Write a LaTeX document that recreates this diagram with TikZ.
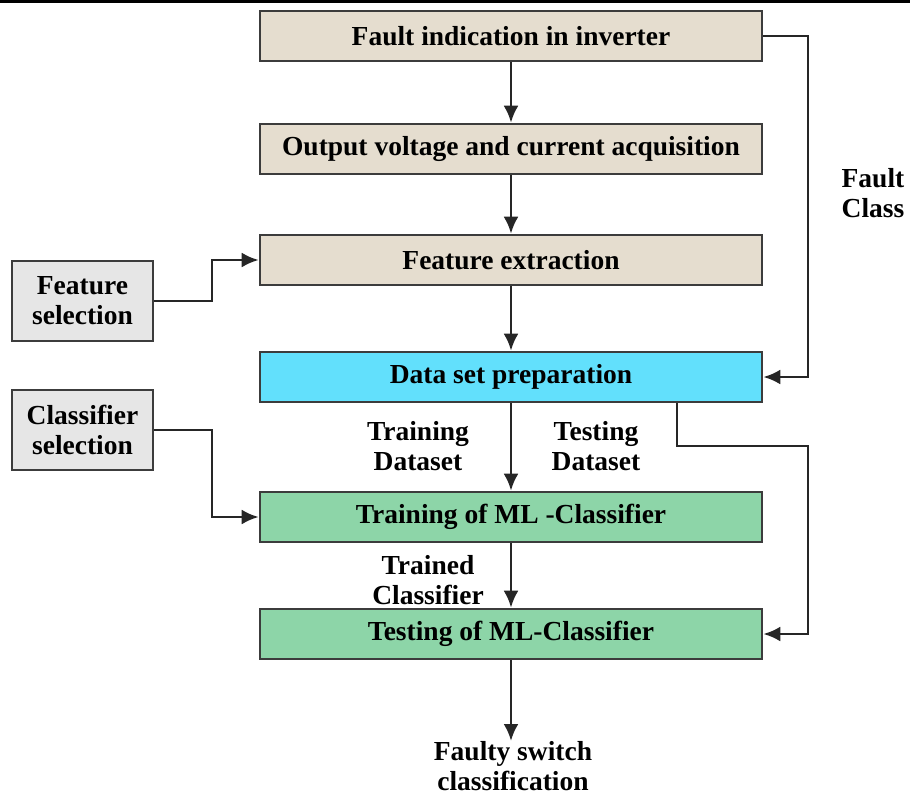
\documentclass[tikz,border=0pt]{standalone}
\usepackage{fontspec}
\setmainfont{Liberation Serif}
\usetikzlibrary{arrows.meta}
\definecolor{beigec}{HTML}{E5DDCF}
\definecolor{cyanc}{HTML}{62E0FC}
\definecolor{greenc}{HTML}{8DD5A8}
\definecolor{greyc}{HTML}{E6E6E6}
\definecolor{edgec}{HTML}{3C3C3C}
\begin{document}
\begin{tikzpicture}[x=1pt,y=-1pt,
  mainbox/.style={draw=edgec,line width=2.6pt,minimum width=502pt,minimum height=50pt,inner sep=0pt,
    font=\fontsize{27.5}{30}\selectfont\bfseries},
  sidebox/.style={draw=edgec,line width=2.6pt,fill=greyc,minimum width=141pt,minimum height=80pt,inner sep=0pt,
    align=center,font=\fontsize{27.5}{30}\selectfont\bfseries},
  lbl/.style={align=center,inner sep=0pt,font=\fontsize{27.5}{30}\selectfont\bfseries},
  conn/.style={draw=black!85,line width=2.9pt},
  arr/.style={conn,-{Latex[length=17pt,width=15pt]}}]
\useasboundingbox (0,0) rectangle (910,796);
\fill[white] (0,0) rectangle (910,796);
\draw[line width=3.5pt] (0,1.5) -- (910,1.5);
\node[mainbox,fill=beigec] (b1) at (511,36) {Fault indication in inverter};
\node[mainbox,fill=beigec] (b2) at (511,149) {Output voltage and current acquisition};
\node[mainbox,fill=beigec] (b3) at (511,260) {Feature extraction};
\node[mainbox,fill=cyanc] (b4) at (511,377) {Data set preparation};
\node[mainbox,fill=greenc] (b5) at (511,517) {Training of ML -Classifier};
\node[mainbox,fill=greenc] (b6) at (511,634) {Testing of ML-Classifier};
\node[sidebox] (fs) at (82.5,301) {Feature\\selection};
\node[sidebox] (cs) at (82.5,430) {Classifier\\selection};
\node[lbl] (fc) at (873,193) {Fault\\Class};
\node[lbl] (trd) at (418,446) {Training\\Dataset};
\node[lbl] (ted) at (596,446) {Testing\\Dataset};
\node[lbl] (tc) at (428,580) {Trained\\Classifier};
\node[lbl] (out) at (513,766) {Faulty switch\\classification};
\coordinate (outtop) at (511,741);
\draw[arr] (b1) -- (b2);
\draw[arr] (b2) -- (b3);
\draw[arr] (b3) -- (b4);
\draw[arr] (b4) -- (b5);
\draw[arr] (b5) -- (b6);
\draw[arr] (b6) -- (outtop);
\draw[arr] (b1.east) -- (808,36) -- (808,377) -- (b4.east);
\draw[arr] (b4.south -| 677,0) -- (677,446) -- (808,446) -- (808,634) -- (b6.east);
\draw[arr] (fs.east) -- (212,301) -- (212,260) -- (b3.west);
\draw[arr] (cs.east) -- (212,430) -- (212,517) -- (b5.west);
\end{tikzpicture}
\end{document}
